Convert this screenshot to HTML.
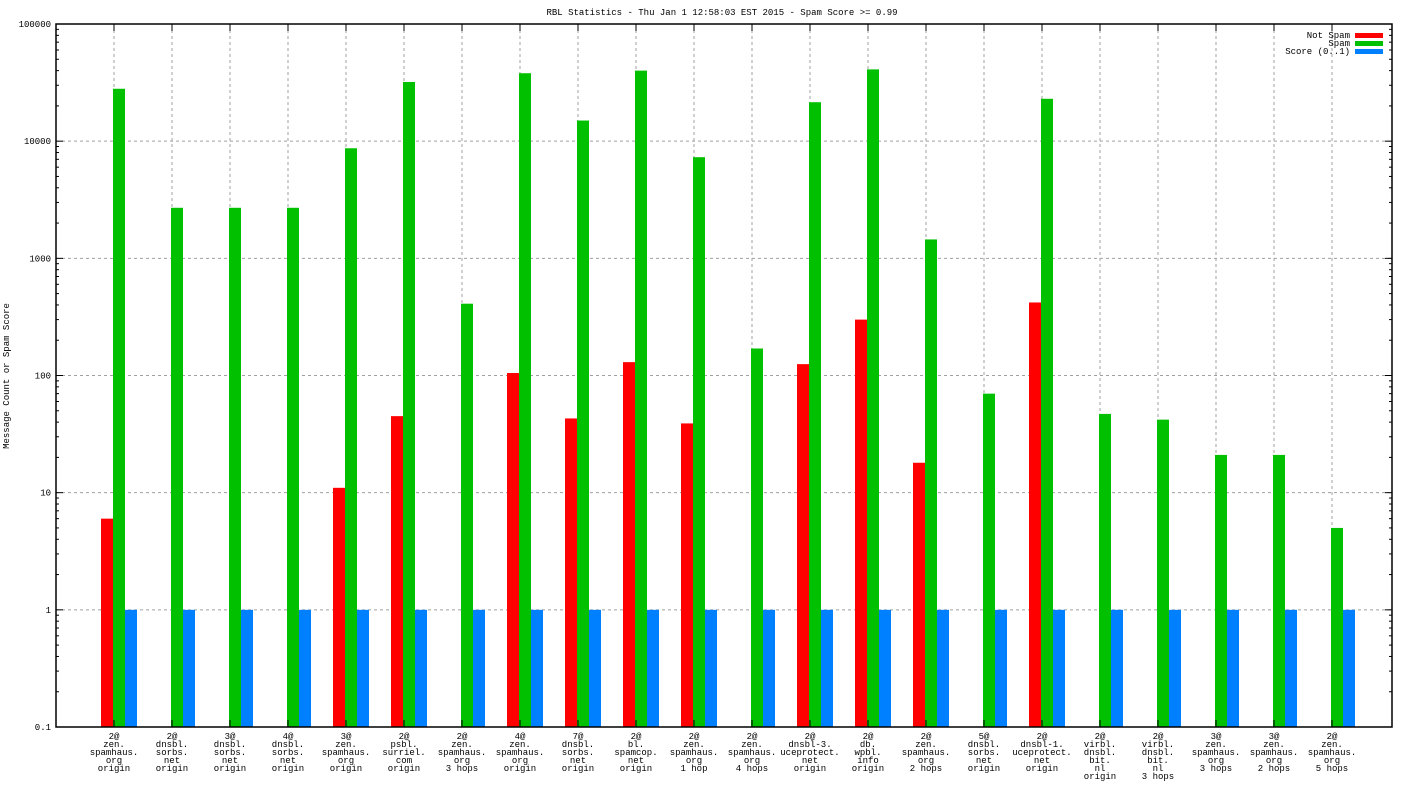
<!DOCTYPE html>
<html><head><meta charset="utf-8"><style>
html,body{margin:0;padding:0;background:#fff;}
svg{display:block;font-family:"Liberation Mono","DejaVu Sans Mono",monospace;}
</style></head><body>
<svg id="chart" width="1408" height="792" viewBox="0 0 1408 792" xmlns="http://www.w3.org/2000/svg">
<text x="722" y="15" font-size="9" text-anchor="middle">RBL Statistics - Thu Jan  1 12:58:03 EST 2015 - Spam Score &gt;= 0.99</text>
<text transform="translate(9,376) rotate(-90)" font-size="9" text-anchor="middle">Message Count or Spam Score</text>
<g id="grid"></g><g id="bars"></g><g id="axes"></g>
<g>
<text x="1350" y="38" font-size="9" text-anchor="end">Not Spam</text>
<rect x="1355" y="33" width="28" height="5" fill="#ff0000"/>
<text x="1350" y="46" font-size="9" text-anchor="end">Spam</text>
<rect x="1355" y="41" width="28" height="5" fill="#00c000"/>
<text x="1350" y="54" font-size="9" text-anchor="end">Score (0..1)</text>
<rect x="1355" y="49" width="28" height="5" fill="#0080ff"/>
</g>
</svg>
<script>
const categories=[["2@","zen.","spamhaus.","org","origin"],["2@","dnsbl.","sorbs.","net","origin"],["3@","dnsbl.","sorbs.","net","origin"],["4@","dnsbl.","sorbs.","net","origin"],["3@","zen.","spamhaus.","org","origin"],["2@","psbl.","surriel.","com","origin"],["2@","zen.","spamhaus.","org","3 hops"],["4@","zen.","spamhaus.","org","origin"],["7@","dnsbl.","sorbs.","net","origin"],["2@","bl.","spamcop.","net","origin"],["2@","zen.","spamhaus.","org","1 hop"],["2@","zen.","spamhaus.","org","4 hops"],["2@","dnsbl-3.","uceprotect.","net","origin"],["2@","db.","wpbl.","info","origin"],["2@","zen.","spamhaus.","org","2 hops"],["5@","dnsbl.","sorbs.","net","origin"],["2@","dnsbl-1.","uceprotect.","net","origin"],["2@","virbl.","dnsbl.","bit.","nl","origin"],["2@","virbl.","dnsbl.","bit.","nl","3 hops"],["3@","zen.","spamhaus.","org","3 hops"],["3@","zen.","spamhaus.","org","2 hops"],["2@","zen.","spamhaus.","org","5 hops"]];
const notSpam=[6,0,0,0,11,45,0,105,43,130,39,0,125,300,18,0,420,0,0,0,0,0];
const spam=[28000,2700,2700,2700,8700,32000,410,38000,15000,40000,7300,170,21500,41000,1450,70,23000,47,42,21,21,5];
const score=[1,1,1,1,1,1,1,1,1,1,1,1,1,1,1,1,1,1,1,1,1,1];
const yTicks=[0.1,1,10,100,1000,10000,100000];
const yTickLabels=["0.1","1","10","100","1000","10000","100000"];
const L=56,R=1392,T=24,B=727;
const NS="http://www.w3.org/2000/svg";
function y(v){return B-(Math.log10(v)+1)/6*(B-T);}
function x(i){return L+58*(i+1);}
function mk(t,a,p){const e=document.createElementNS(NS,t);for(const k in a)e.setAttribute(k,a[k]);p.appendChild(e);return e;}
const grid=document.getElementById('grid'),bars=document.getElementById('bars'),axes=document.getElementById('axes');
yTicks.forEach((v,k)=>{
 if(k>0&&k<yTicks.length-1){const g=mk('line',{x1:L,x2:R,y1:y(v),y2:y(v),stroke:'#a0a0a0','stroke-dasharray':'3,3','stroke-width':1},grid);
 
 }
 const t=mk('text',{x:L-5,y:y(v)+3,'font-size':9,'text-anchor':'end'},axes);t.textContent=yTickLabels[k];
 
 
 mk('line',{x1:L,x2:L+7,y1:y(v),y2:y(v),stroke:'#000'},axes);
 mk('line',{x1:R,x2:R-7,y1:y(v),y2:y(v),stroke:'#000'},axes);
 if(k<yTicks.length-1){for(let m=2;m<10;m++){const mv=v*m;
  mk('line',{x1:L,x2:L+3,y1:y(mv),y2:y(mv),stroke:'#000'},axes);
  mk('line',{x1:R,x2:R-3,y1:y(mv),y2:y(mv),stroke:'#000'},axes);}}
});
categories.forEach((c,i)=>{
 const cx=x(i);
 const g=mk('line',{x1:cx,x2:cx,y1:T,y2:B,stroke:'#a0a0a0','stroke-dasharray':'3,3'},grid);
 
 
 mk('line',{x1:cx,x2:cx,y1:B,y2:B-7,stroke:'#000'},axes);
 mk('line',{x1:cx,x2:cx,y1:T,y2:T+7,stroke:'#000'},axes);
 const t=mk('text',{x:cx,y:B+12,'font-size':9,'text-anchor':'middle'},axes);
 
 
 c.forEach((s,j)=>{const ts=mk('tspan',{x:cx,dy:j?8:0},t);ts.textContent=s;});
 [[notSpam,'#ff0000',-12,'bar-not-spam'],[spam,'#00c000',0,'bar-spam'],[score,'#0080ff',12,'bar-score']].forEach(([arr,col,off,nm])=>{
  const v=arr[i]; if(!(v>0.1))return;
  const r=mk('rect',{x:cx+off-1,y:y(v),width:12,height:B-y(v),fill:col},bars);
  
  
 });
});
const fr=mk('rect',{x:L,y:T,width:R-L,height:B-T,fill:'none',stroke:'#000','stroke-width':1.5},axes);


</script>
</body></html>
